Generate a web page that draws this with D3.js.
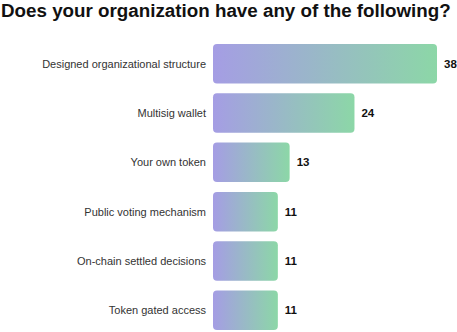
<!DOCTYPE html>
<meta charset="utf-8">
<style>
  body { margin: 0; background: #fff; }
  text { font-family: "Liberation Sans", Arial, sans-serif; }
</style>
<body>
<script src="https://d3js.org/d3.v7.min.js"></script>
<script>
// data
var titleText = "Does your organization have any of the following?";
var categories = [
  "Designed organizational structure",
  "Multisig wallet",
  "Your own token",
  "Public voting mechanism",
  "On-chain settled decisions",
  "Token gated access"
];
var counts = [38, 24, 13, 11, 11, 11];

var width = 457, height = 332;
var margin = {top: 44, right: 20, bottom: 2, left: 213};

var svg = d3.select("body").append("svg")
    .attr("width", width)
    .attr("height", height);

// gradient for bars
var defs = svg.append("defs");
var grad = defs.append("linearGradient")
    .attr("id", "barGrad")
    .attr("x1", "0%").attr("x2", "100%")
    .attr("y1", "0%").attr("y2", "0%");
grad.append("stop").attr("offset", "0%").attr("stop-color", "#a59de4");
grad.append("stop").attr("offset", "100%").attr("stop-color", "#8cd7a7");

svg.append("text")
    .attr("x", 1)
    .attr("y", 17)
    .attr("font-size", "18.8px")
    .attr("font-weight", "bold")
    .attr("fill", "#111")
    .text(titleText);

var x = d3.scaleLinear()
    .domain([0, 38])
    .range([0, 224]);

var y = d3.scaleBand()
    .domain(categories)
    .range([0, 286])
    .paddingInner(0.2)
    .paddingOuter(0);

var g = svg.append("g")
    .attr("transform", "translate(" + margin.left + "," + margin.top + ")");

var rows = g.selectAll(".row")
    .data(categories)
    .enter().append("g")
    .attr("class", "row");

rows.append("rect")
    .attr("x", 0)
    .attr("y", function(d) { return y(d); })
    .attr("width", function(d, i) { return x(counts[i]); })
    .attr("height", y.bandwidth())
    .attr("rx", 4)
    .attr("fill", "url(#barGrad)");

// category labels
rows.append("text")
    .attr("x", -7)
    .attr("y", function(d) { return y(d) + y.bandwidth() / 2; })
    .attr("dy", "0.35em")
    .attr("text-anchor", "end")
    .attr("font-size", "11px")
    .attr("fill", "#333")
    .text(function(d) { return d; });

// value labels
rows.append("text")
    .attr("x", function(d, i) { return x(counts[i]) + 7; })
    .attr("y", function(d) { return y(d) + y.bandwidth() / 2; })
    .attr("dy", "0.35em")
    .attr("font-size", "11.5px")
    .attr("font-weight", "bold")
    .attr("fill", "#111")
    .text(function(d, i) { return counts[i]; });
</script>
</body>
